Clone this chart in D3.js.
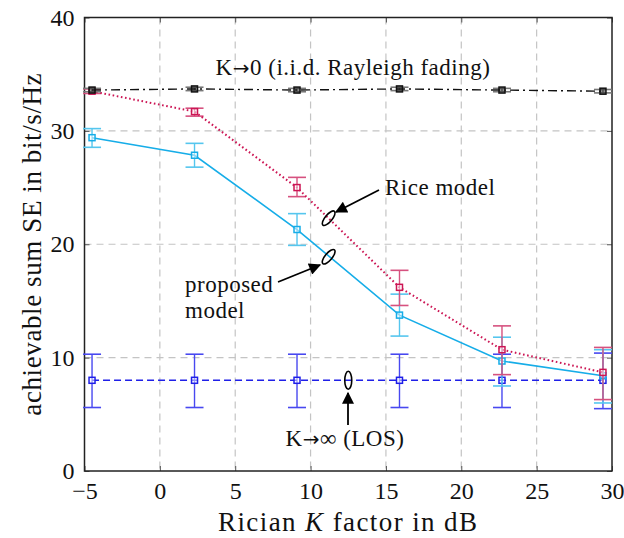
<!DOCTYPE html>
<html>
<head>
<meta charset="utf-8">
<script src="https://cdn.jsdelivr.net/npm/d3@7"></script>
<style>
  body { margin: 0; background: #fff; }
  text { font-family: "Liberation Serif", "DejaVu Serif", serif; fill: #111; }
</style>
</head>
<body>
<script>
// Rician K factor (dB) at which the simulations were run
let kdB = [-4.5, 2.3, 9.1, 15.9, 22.7, 29.4];

// K -> 0 (i.i.d. Rayleigh fading)
let rayleigh   = [33.6, 33.7, 33.6, 33.7, 33.6, 33.5];
let rayleighLo = [33.45, 33.55, 33.45, 33.55, 33.45, 33.35];
let rayleighHi = [33.75, 33.85, 33.75, 33.85, 33.75, 33.65];

// Rice model
let rice   = [33.5, 31.7, 25.0, 16.2, 10.7, 8.7];
let riceLo = [33.3, 31.3, 24.2, 14.6, 8.5, 6.3];
let riceHi = [33.7, 32.0, 25.9, 17.7, 12.8, 10.9];

// proposed model
let proposed   = [29.4, 27.85, 21.3, 13.75, 9.7, 8.4];
let proposedLo = [28.55, 26.8, 19.9, 11.9, 7.5, 6.0];
let proposedHi = [30.2, 28.9, 22.7, 15.6, 11.8, 10.7];

// K -> infinity (LOS)
let los   = [8.0, 8.0, 8.0, 8.0, 8.0, 8.0];
let losLo = [5.6, 5.6, 5.6, 5.6, 5.6, 5.5];
let losHi = [10.3, 10.3, 10.3, 10.3, 10.3, 10.4];

let xTicks = [-5, 0, 5, 10, 15, 20, 25, 30];
let yTicks = [0, 10, 20, 30, 40];

let width = 624, height = 538;
let pLeft = 84.5, pRight = 612, pTop = 17.5, pBottom = 471;

let svg = d3.select("body")
              .append("svg")
                .attr("width", width)
                .attr("height", height);

let x = d3.scaleLinear().domain([-5, 30]).range([pLeft, pRight]);
let y = d3.scaleLinear().domain([0, 40]).range([pBottom, pTop]);

// grid
svg.append("g")
    .selectAll("line").data(xTicks.slice(1, -1)).enter()
    .append("line")
      .attr("x1", d => x(d)).attr("x2", d => x(d))
      .attr("y1", pTop).attr("y2", pBottom)
      .attr("stroke", "#c4c4c4").attr("stroke-width", 1.2)
      .attr("stroke-dasharray", "7,5");
svg.append("g")
    .selectAll("line").data(yTicks.slice(1, -1)).enter()
    .append("line")
      .attr("x1", pLeft).attr("x2", pRight)
      .attr("y1", d => y(d)).attr("y2", d => y(d))
      .attr("stroke", "#c4c4c4").attr("stroke-width", 1.2)
      .attr("stroke-dasharray", "7,5");

// axes, ticks pointing inward on all sides
let xAxis = svg.append("g")
    .attr("transform", "translate(0," + pBottom + ")")
    .call(d3.axisBottom(x).tickValues(xTicks).tickSizeInner(-5).tickSizeOuter(0)
            .tickPadding(10).tickFormat(d => d < 0 ? "\u2212" + Math.abs(d) : d));
let yAxis = svg.append("g")
    .attr("transform", "translate(" + pLeft + ",0)")
    .call(d3.axisLeft(y).tickValues(yTicks).tickSizeInner(-5).tickSizeOuter(0).tickPadding(10));
svg.append("g")
    .attr("transform", "translate(" + pRight + ",0)")
    .call(d3.axisRight(y).tickValues(yTicks).tickSizeInner(-5).tickSizeOuter(0).tickFormat(""));
svg.append("g")
    .attr("transform", "translate(0," + pTop + ")")
    .call(d3.axisTop(x).tickValues(xTicks).tickSizeInner(-5).tickSizeOuter(0).tickFormat(""));

svg.selectAll(".domain").remove();
svg.selectAll(".tick line").attr("stroke", "#555").attr("stroke-width", 1);
xAxis.selectAll("text").style("font-size", "24px").attr("fill", "#111")
     .attr("dy", "0.75em").attr("font-family", "Liberation Serif");
yAxis.selectAll("text").style("font-size", "24px").attr("fill", "#111")
     .attr("font-family", "Liberation Serif");

svg.append("rect")
    .attr("x", pLeft).attr("y", pTop)
    .attr("width", pRight - pLeft).attr("height", pBottom - pTop)
    .attr("fill", "none").attr("stroke", "#222").attr("stroke-width", 1.5);

// series
let series = [
  {name: "los", v: los, lo: losLo, hi: losHi, color: "#1f1fe8", bar: "#4848f0", fill: "#fff", dash: "7,4", w: 1.6},
  {name: "proposed", v: proposed, lo: proposedLo, hi: proposedHi, color: "#16ade8", bar: "#55c6ee", fill: "#fff", dash: null, w: 1.6},
  {name: "rice", v: rice, lo: riceLo, hi: riceHi, color: "#cc1554", bar: "#d6517f", fill: "#fff", dash: "1.6,2.6", w: 2},
  {name: "rayleigh", v: rayleigh, lo: rayleighLo, hi: rayleighHi, color: "#111", bar: "#777", fill: "#222", dash: "9,4,2,4", w: 1.4}
];

let line = d3.line()
    .x(d => x(d[0]))
    .y(d => y(d[1]));

series.forEach(function(s){
  let pts = kdB.map((k, i) => [k, s.v[i], s.lo[i], s.hi[i]]);
  let g = svg.append("g").attr("class", s.name);

  // error bars
  let eb = g.selectAll(".eb").data(pts).enter().append("g").attr("class", "eb");
  eb.append("line")
      .attr("x1", d => x(d[0])).attr("x2", d => x(d[0]))
      .attr("y1", d => y(d[2])).attr("y2", d => y(d[3]))
      .attr("stroke", s.bar).attr("stroke-width", 1.4);
  eb.append("line")
      .attr("x1", d => x(d[0]) - 9).attr("x2", d => x(d[0]) + 9)
      .attr("y1", d => y(d[2])).attr("y2", d => y(d[2]))
      .attr("stroke", s.bar).attr("stroke-width", 1.6);
  eb.append("line")
      .attr("x1", d => x(d[0]) - 9).attr("x2", d => x(d[0]) + 9)
      .attr("y1", d => y(d[3])).attr("y2", d => y(d[3]))
      .attr("stroke", s.bar).attr("stroke-width", 1.6);

  g.append("path")
      .datum(pts)
      .attr("d", line)
      .attr("fill", "none")
      .attr("stroke", s.color)
      .attr("stroke-width", s.w)
      .attr("stroke-dasharray", s.dash);

  g.selectAll("rect").data(pts).enter()
    .append("rect")
      .attr("x", d => x(d[0]) - 3).attr("y", d => y(d[1]) - 3)
      .attr("width", 6).attr("height", 6)
      .attr("fill", s.fill).attr("fill-opacity", 0.5)
      .attr("stroke", s.color).attr("stroke-width", 1.5);
});

// annotations: ellipse + arrow + label
let defs = svg.append("defs");
defs.append("marker")
    .attr("id", "arr").attr("viewBox", "0 0 10 10")
    .attr("refX", 9).attr("refY", 5)
    .attr("markerWidth", 16).attr("markerHeight", 12)
    .attr("markerUnits", "userSpaceOnUse")
    .attr("orient", "auto")
  .append("path").attr("d", "M0,0 L10,5 L0,10 Z").attr("fill", "#000");

let notes = [
  {ex: 11.2, ey: 22.3, rot: 40, from: [379, 190], to: [336, 212]},
  {ex: 11.2, ey: 18.9, rot: 40, from: [278, 282], to: [320, 265]},
  {ex: 12.5, ey: 8.0, rot: 0, from: [348, 425], to: [348, 393]}
];
notes.forEach(function(n){
  svg.append("ellipse")
      .attr("transform", "translate(" + x(n.ex) + "," + y(n.ey) + ") rotate(" + n.rot + ")")
      .attr("rx", 3.5).attr("ry", 9)
      .attr("fill", "none").attr("stroke", "#000").attr("stroke-width", 1.6);
  svg.append("line")
      .attr("x1", n.from[0]).attr("y1", n.from[1])
      .attr("x2", n.to[0]).attr("y2", n.to[1])
      .attr("stroke", "#000").attr("stroke-width", 1.8)
      .attr("marker-end", "url(#arr)");
});

let labels = [
  {t: ["Rice model"], x: 385, y: 195, a: "start"},
  {t: ["proposed"], x: 185, y: 292, a: "start"},
  {t: ["model"], x: 185, y: 318, a: "start"},
  {t: ["K", "\u2192", "\u221e (LOS)"], x: 345, y: 446, a: "middle"},
  {t: ["K", "\u2192", "0 (i.i.d. Rayleigh fading)"], x: 353, y: 75, a: "middle"}
];
let notesText = svg.selectAll(".note").data(labels).enter()
  .append("text")
    .attr("class", "note")
    .attr("x", d => d.x).attr("y", d => d.y)
    .attr("text-anchor", d => d.a)
    .style("font-size", "23px")
    .style("letter-spacing", "0.5px");
notesText.selectAll("tspan").data(d => d.t).enter()
  .append("tspan")
    .style("font-family", d => d == "\u2192" ? "DejaVu Sans" : null)
    .style("font-size", d => d == "\u2192" ? "20px" : null)
    .text(d => d);

// axis titles
let xt = svg.append("text")
    .attr("x", (pLeft + pRight) / 2).attr("y", 530.5)
    .attr("text-anchor", "middle")
    .style("font-size", "27px")
    .style("letter-spacing", "1.4px");
xt.append("tspan").text("Rician ");
xt.append("tspan").attr("font-style", "italic").text("K");
xt.append("tspan").text(" factor in dB");

svg.append("text")
    .attr("transform", "translate(41," + ((pTop + pBottom) / 2) + ") rotate(-90)")
    .attr("text-anchor", "middle")
    .style("font-size", "27px")
    .style("letter-spacing", "0.6px")
    .text("achievable sum SE in bit/s/Hz");
</script>
</body>
</html>
